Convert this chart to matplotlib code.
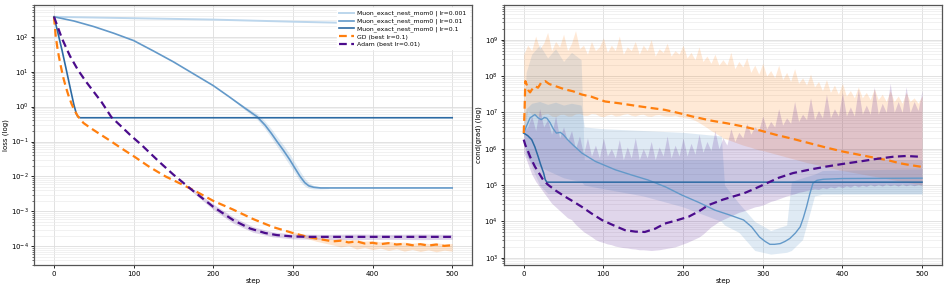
import numpy as np
import matplotlib
matplotlib.use("Agg")
import matplotlib.pyplot as plt

# ---------------- DATA (values stored as log10) ----------------
labels = ["Muon_exact_nest_mom0 | lr=0.001", "Muon_exact_nest_mom0 | lr=0.01",
          "Muon_exact_nest_mom0 | lr=0.1", "GD (best lr=0.1)", "Adam (best lr=0.01)"]
xticks = [0, 100, 200, 300, 400, 500]
loss_yticks = [1e-4, 1e-3, 1e-2, 1e-1, 1e0, 1e1, 1e2]
cond_yticks = [1e3, 1e4, 1e5, 1e6, 1e7, 1e8, 1e9]

# ---- left panel: loss ----
m001_loss_x = [0, 100, 200, 300, 400, 500]
m001_loss = [2.57, 2.53, 2.49, 2.43, 2.38, 2.33]

m01_loss_x = [0, 25, 50, 75, 100, 125, 150, 175, 200, 220, 240, 255, 265, 273, 280, 288, 296, 303, 309, 315, 320, 326, 335, 500]
m01_loss = [2.57, 2.45, 2.29, 2.10, 1.89, 1.59, 1.28, 0.94, 0.60, 0.28, -0.05, -0.29, -0.53, -0.77, -1.0, -1.25, -1.52, -1.78, -2.0, -2.18, -2.27, -2.31, -2.33, -2.33]
m01_band_x = [225, 240, 255, 265, 273, 280, 288, 296, 303, 309, 315, 320, 326, 335, 345]
m01_band_lo = [0.18, -0.10, -0.37, -0.64, -0.90, -1.14, -1.40, -1.68, -1.93, -2.14, -2.28, -2.34, -2.36, -2.36, -2.35]
m01_band_hi = [0.22, 0.00, -0.20, -0.42, -0.64, -0.86, -1.10, -1.36, -1.62, -1.85, -2.06, -2.18, -2.26, -2.30, -2.31]

m1_loss_x = [0, 5, 10, 15, 20, 25, 28, 30, 33, 500]
m1_loss = [2.57, 2.10, 1.62, 1.10, 0.57, 0.05, -0.20, -0.29, -0.32, -0.32]

gd_loss_x = [0, 2, 4, 6, 8, 10, 12, 15, 18, 22, 26, 30, 37, 45, 55, 70, 85, 100, 120, 140, 160, 180, 200, 225, 250, 275, 300, 320, 340,
             350, 360, 370, 380, 390, 400, 410, 420, 430, 440, 450, 460, 470, 480, 490, 500]
gd_loss = [2.57, 2.05, 1.72, 1.45, 1.22, 1.00, 0.80, 0.55, 0.33, 0.08, -0.12, -0.28, -0.47, -0.60, -0.75, -0.97, -1.20, -1.42, -1.73, -2.00, -2.22, -2.45, -2.70, -2.95, -3.22, -3.45, -3.62, -3.74, -3.82,
           -3.86, -3.84, -3.89, -3.86, -3.92, -3.90, -3.94, -3.91, -3.95, -3.93, -3.97, -3.94, -3.98, -3.95, -3.99, -3.97]
gd_band_x = [300, 330, 350, 360, 370, 380, 390, 400, 410, 420, 430, 440, 450, 460, 470, 480, 490, 500]
gd_band_lo = [-3.66, -3.86, -3.96, -4.02, -3.98, -4.08, -4.03, -4.10, -4.05, -4.12, -4.07, -4.14, -4.09, -4.15, -4.10, -4.16, -4.11, -4.14]
gd_band_hi = [-3.58, -3.75, -3.80, -3.79, -3.82, -3.81, -3.85, -3.84, -3.87, -3.86, -3.89, -3.88, -3.91, -3.89, -3.92, -3.90, -3.93, -3.92]

adam_loss_x = [0, 10, 20, 30, 40, 50, 60, 72, 85, 96, 110, 121, 133, 150, 175, 200, 225, 246, 265, 280, 300, 320, 500]
adam_loss = [2.57, 1.95, 1.45, 1.05, 0.72, 0.42, 0.12, -0.30, -0.58, -0.82, -1.10, -1.34, -1.60, -1.95, -2.42, -2.87, -3.25, -3.49, -3.62, -3.68, -3.72, -3.73, -3.73]
adam_band_x = [170, 175, 200, 225, 250, 275, 300, 340, 380, 420, 460, 500]
adam_band_lo = [-2.36, -2.47, -2.95, -3.34, -3.60, -3.73, -3.79, -3.80, -3.81, -3.80, -3.81, -3.80]
adam_band_hi = [-2.30, -2.37, -2.79, -3.16, -3.44, -3.59, -3.65, -3.66, -3.65, -3.66, -3.65, -3.66]

# ---- right panel: cond(grad) ----
gd_cond_x = [0, 1, 2, 4, 6, 8, 10, 14, 18, 22, 27, 32, 40, 52, 62, 73, 85, 102, 120, 144, 160, 177, 195, 211, 236, 255, 276, 297, 317, 338,
             359, 380, 401, 422, 443, 458, 472, 485, 497, 500]
gd_cond = [6.43, 7.00, 7.86, 7.75, 7.60, 7.55, 7.62, 7.72, 7.68, 7.82, 7.86, 7.78, 7.72, 7.63, 7.58, 7.49, 7.43, 7.30, 7.25, 7.17, 7.12, 7.07, 6.98, 6.89, 6.77, 6.70, 6.61, 6.50, 6.38, 6.27,
           6.15, 6.03, 5.92, 5.83, 5.74, 5.68, 5.60, 5.55, 5.51, 5.50]

band_steps = list(range(0, 501, 5))
gd_cband_lo = [6.40, 7.05, 6.95, 6.92, 6.90, 6.95, 6.97, 6.90, 6.88, 6.94,
               6.95, 6.90, 6.90, 6.96, 6.97, 6.92, 6.92, 6.97, 6.96, 6.90,
               6.88, 6.93, 6.95, 6.90, 6.91, 6.95, 6.97, 6.92, 6.90, 6.94,
               6.95, 6.90, 6.89, 6.93, 6.94, 6.91, 6.90, 6.90, 6.92, 6.88,
               6.87, 6.85, 6.82, 6.78, 6.72, 6.65, 6.58, 6.50, 6.44, 6.37,
               6.30, 6.26, 6.22, 6.18, 6.14, 6.10, 6.07, 6.04, 6.00, 5.97,
               5.95, 5.92, 5.89, 5.86, 5.83, 5.80, 5.77, 5.74, 5.71, 5.68,
               5.65, 5.62, 5.60, 5.57, 5.55, 5.52, 5.50, 5.47, 5.45, 5.42,
               5.40, 5.38, 5.36, 5.34, 5.32, 5.30, 5.28, 5.26, 5.24, 5.22,
               5.20, 5.18, 5.16, 5.14, 5.12, 5.10, 5.08, 5.06, 5.04, 5.02,
               5.00]
gd_cband_hi = [8.60, 8.85, 8.70, 9.10, 8.75, 8.90, 9.20, 8.70, 8.95, 8.80,
               9.15, 8.70, 8.90, 9.25, 8.75, 8.85, 8.60, 8.95, 8.70, 8.80,
               9.05, 8.65, 8.85, 8.70, 9.10, 8.60, 8.80, 8.70, 8.95, 8.60,
               8.85, 8.70, 9.00, 8.55, 8.75, 8.65, 8.90, 8.55, 8.70, 8.60,
               8.85, 8.50, 8.65, 8.45, 8.80, 8.40, 8.55, 8.35, 8.60, 8.30,
               8.45, 8.30, 8.65, 8.20, 8.40, 8.25, 8.50, 8.10, 8.30, 8.05,
               8.35, 8.00, 8.15, 7.95, 8.30, 7.90, 8.10, 7.85, 8.20, 7.80,
               7.95, 7.75, 8.05, 7.70, 7.85, 7.60, 7.90, 7.55, 7.75, 7.50,
               7.80, 7.45, 7.60, 7.40, 7.70, 7.40, 7.55, 7.35, 7.65, 7.35,
               7.50, 7.30, 7.60, 7.30, 7.45, 7.25, 7.55, 7.30, 7.40, 7.25,
               7.45]

adam_cond_x = [0, 2, 5, 8, 14, 20, 25, 31, 40, 52, 62, 73, 85, 98, 112, 127, 140, 152, 165, 177, 192, 207, 220, 232, 250, 265, 276, 290, 305, 320, 338,
               360, 380, 400, 422, 443, 464, 480, 497, 500]
adam_cond = [6.25, 6.10, 5.95, 5.78, 5.51, 5.30, 5.12, 5.00, 4.85, 4.68, 4.55, 4.40, 4.22, 4.04, 3.90, 3.76, 3.72, 3.71, 3.80, 3.94, 4.03, 4.13, 4.28, 4.45, 4.60, 4.70, 4.77, 4.90, 5.05, 5.20, 5.33,
             5.43, 5.51, 5.58, 5.65, 5.72, 5.78, 5.80, 5.78, 5.78]
adam_cband_lo = [5.90, 5.60, 5.30, 5.10, 4.95, 4.80, 4.65, 4.50, 4.40, 4.30,
                 4.20, 4.10, 4.05, 3.92, 3.82, 3.72, 3.65, 3.58, 3.50, 3.45,
                 3.42, 3.38, 3.36, 3.32, 3.30, 3.28, 3.27, 3.25, 3.24, 3.22,
                 3.22, 3.21, 3.20, 3.21, 3.22, 3.24, 3.26, 3.28, 3.30, 3.34,
                 3.38, 3.42, 3.47, 3.52, 3.57, 3.65, 3.75, 3.85, 3.92, 4.00,
                 4.05, 4.10, 4.15, 4.20, 4.25, 4.28, 4.32, 4.36, 4.40, 4.42,
                 4.45, 4.50, 4.55, 4.58, 4.62, 4.66, 4.70, 4.73, 4.76, 4.80,
                 4.82, 4.85, 4.87, 4.90, 4.88, 4.93, 4.90, 4.95, 4.92, 4.97,
                 4.93, 4.98, 4.94, 5.00, 4.95, 5.00, 4.96, 5.02, 4.97, 5.02,
                 4.97, 5.03, 4.98, 5.02, 4.97, 5.03, 4.98, 5.02, 4.98, 5.02,
                 5.00]
adam_cband_hi = [6.50, 6.60, 6.90, 6.50, 7.10, 6.60, 6.80, 6.40, 6.90, 6.30,
                 6.60, 6.20, 6.50, 6.00, 6.35, 5.85, 6.30, 5.80, 6.10, 5.75,
                 6.30, 5.80, 6.00, 5.75, 6.25, 5.70, 6.05, 5.75, 6.30, 5.70,
                 6.00, 5.75, 6.20, 5.70, 6.05, 5.80, 6.35, 5.75, 6.10, 5.80,
                 6.30, 5.80, 6.15, 5.85, 6.40, 5.90, 6.20, 5.95, 6.50, 6.00,
                 6.30, 6.10, 6.55, 6.20, 6.45, 6.30, 6.70, 6.40, 6.60, 6.50,
                 6.90, 6.55, 6.75, 6.60, 7.10, 6.65, 6.85, 6.70, 7.30, 6.75,
                 6.95, 6.80, 7.40, 6.80, 7.05, 6.85, 7.50, 6.85, 7.10, 6.90,
                 7.55, 6.90, 7.15, 6.90, 7.65, 6.95, 7.20, 6.95, 7.70, 6.95,
                 7.25, 7.00, 7.80, 7.00, 7.30, 7.00, 7.70, 7.00, 7.30, 7.05,
                 7.60]

m01_cond_x = [0, 4, 8, 14, 18, 22, 26, 29, 33, 37, 41, 46, 50, 55, 62, 73, 90, 115, 135, 156, 178, 198, 220, 240, 258, 276, 286, 296, 303, 309, 315, 322, 328, 334, 341,
              347, 351, 355, 359, 363, 368, 376, 400, 500]
m01_cond = [6.43, 6.65, 6.85, 6.94, 6.85, 6.80, 6.86, 6.84, 6.72, 6.55, 6.43, 6.45, 6.38, 6.25, 6.10, 5.88, 5.65, 5.42, 5.28, 5.14, 4.95, 4.73, 4.52, 4.31, 4.18, 4.04, 3.85, 3.57, 3.45, 3.37, 3.37, 3.39, 3.45, 3.53, 3.68,
            3.85, 4.10, 4.40, 4.75, 5.05, 5.13, 5.16, 5.18, 5.19]
m01_cband_x = [0, 3, 10, 20, 30, 40, 50, 60, 72, 76, 100, 150, 200, 248, 252, 270, 290, 310, 330, 336, 350, 365, 375, 500]
m01_cband_lo = [6.43, 5.80, 5.60, 5.50, 5.40, 5.30, 5.20, 5.15, 5.10, 5.00, 4.90, 4.70, 4.40, 4.00, 3.90, 3.70, 3.20, 3.10, 3.15, 3.20, 3.50, 4.70, 4.75, 4.75]
m01_cband_hi = [6.43, 7.10, 7.25, 7.30, 7.22, 7.28, 7.20, 7.25, 7.20, 6.60, 6.55, 6.50, 6.45, 6.35, 5.00, 4.50, 4.00, 3.75, 3.90, 5.10, 5.20, 5.30, 5.40, 5.45]

m1_cond_x = [0, 5, 10, 14, 18, 21, 25, 27, 29, 500]
m1_cond = [6.43, 6.36, 6.25, 6.05, 5.79, 5.58, 5.33, 5.15, 5.08, 5.08]
m1_cband_x = [0, 3, 10, 20, 30, 40, 50, 60, 72, 76, 500]
m1_cband_lo = [6.43, 5.90, 5.50, 5.00, 4.77, 4.77, 4.77, 4.77, 4.77, 4.77, 4.77]
m1_cband_hi = [6.43, 8.10, 8.60, 8.85, 8.50, 8.75, 8.40, 8.65, 8.45, 5.70, 5.70]

# ---------------- STYLE ----------------
c001, c01, c1 = "#bcd6ec", "#6399c9", "#2c6aa3"
cgd, cadam = "#ff7f0e", "#4b0c8c"

plt.rcParams["font.family"] = ["DejaVu Sans"]
fig = plt.figure(figsize=(9.47, 2.9), dpi=100)
axL = fig.add_axes([0.036, 0.086, 0.4625, 0.8968])
axR = fig.add_axes([0.532, 0.086, 0.4627, 0.8968])


def P(v):
    return 10 ** np.asarray(v, dtype=float)


def style(ax, ylabel, yticks):
    ax.set_yscale("log")
    ax.set_xlim(-25, 525)
    ax.set_xticks(xticks)
    ax.set_yticks(yticks)
    ax.grid(True, which="major", color="#dddddd", linewidth=0.6)
    ax.grid(True, which="minor", axis="y", color="#ececec", linewidth=0.5)
    ax.set_axisbelow(True)
    ax.tick_params(labelsize=5, length=2.5, width=0.6, pad=1.5)
    ax.tick_params(which="minor", length=1.5, width=0.4)
    ax.set_xlabel("step", fontsize=5, labelpad=1)
    ax.set_ylabel(ylabel, fontsize=5, labelpad=1.5)
    for s in ax.spines.values():
        s.set_color("#555555")
        s.set_linewidth(0.9)


# ---- left ----
axL.fill_between(m01_band_x, P(m01_band_lo), P(m01_band_hi), color=c01, alpha=0.2, linewidth=0)
axL.fill_between(gd_band_x, P(gd_band_lo), P(gd_band_hi), color=cgd, alpha=0.2, linewidth=0)
axL.fill_between(adam_band_x, P(adam_band_lo), P(adam_band_hi), color=cadam, alpha=0.18, linewidth=0)
axL.plot(m001_loss_x, P(m001_loss), color=c001, lw=1.4, label=labels[0])
axL.plot(m01_loss_x, P(m01_loss), color=c01, lw=1.2, label=labels[1])
axL.plot(m1_loss_x, P(m1_loss), color=c1, lw=1.2, label=labels[2])
axL.plot(gd_loss_x, P(gd_loss), color=cgd, lw=1.6, ls=(0, (3.5, 2)), label=labels[3])
axL.plot(adam_loss_x, P(adam_loss), color=cadam, lw=1.6, ls=(0, (3.5, 2)), label=labels[4])
style(axL, "loss (log)", loss_yticks)
axL.set_ylim(2.9e-5, 8.1e2)
axL.legend(loc="upper right", fontsize=4.4, frameon=True, framealpha=1.0,
           edgecolor="white", handlelength=2.4, handletextpad=0.6,
           borderpad=0.4, labelspacing=0.32)

# ---- right ----
axR.fill_between(band_steps, P(gd_cband_lo), P(gd_cband_hi), color=cgd, alpha=0.17, linewidth=0)
axR.fill_between(m01_cband_x, P(m01_cband_lo), P(m01_cband_hi), color=c01, alpha=0.2, linewidth=0)
axR.fill_between(m1_cband_x, P(m1_cband_lo), P(m1_cband_hi), color=c1, alpha=0.12, linewidth=0)
axR.fill_between(band_steps, P(adam_cband_lo), P(adam_cband_hi), color=cadam, alpha=0.17, linewidth=0)
axR.plot(m01_cond_x, P(m01_cond), color=c01, lw=1.0)
axR.plot(m1_cond_x, P(m1_cond), color=c1, lw=1.1)
axR.plot(gd_cond_x, P(gd_cond), color=cgd, lw=1.6, ls=(0, (3.5, 2)))
axR.plot(adam_cond_x, P(adam_cond), color=cadam, lw=1.6, ls=(0, (3.5, 2)))
style(axR, "cond(grad) (log)", cond_yticks)
axR.set_ylim(6.3e2, 9e9)

fig.savefig("out.png", dpi=100)
